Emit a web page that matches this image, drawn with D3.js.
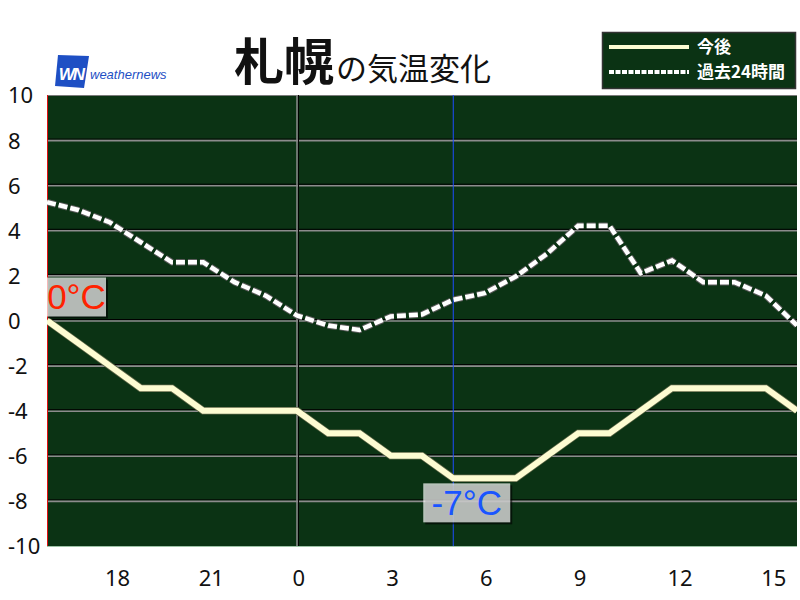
<!DOCTYPE html>
<html><head><meta charset="utf-8">
<script src="https://cdn.jsdelivr.net/npm/d3@7"></script>
<style>body{margin:0;background:#fff}svg{display:block}</style>
</head><body>
<svg id="c" width="800" height="600"></svg>
<script>
// hourly slots from 16:00 to 16:00 next day (25 points)
const hours = d3.range(25);
const tickIdx = [2,5,8,11,14,17,20,23];
const tickLabels = ["18","21","0","3","6","9","12","15"];
const yTicks = [-10,-8,-6,-4,-2,0,2,4,6,8,10];
const future = [0,-1,-2,-3,-3,-4,-4,-4,-4,-5,-5,-6,-6,-7,-7,-7,-6,-5,-5,-4,-3,-3,-3,-3,-4];
const past = [5.25,4.9,4.36,3.47,2.58,2.58,1.7,1.1,0.22,-0.22,-0.42,0.18,0.27,0.92,1.21,1.95,2.96,4.2,4.2,2.1,2.66,1.7,1.7,1.1,-0.22];
const legendLabels = ["今後","過去24時間"];
const titleMain = "札幌", titleSub = "の気温変化";
const startLabel = "0°C", minLabel = "-7°C";

const svg = d3.select("#c");
const L=47, R=797, T=95, B=546;
const x = d3.scaleLinear().domain([0,24]).range([L,R]);
const y = d3.scaleLinear().domain([-10,10]).range([B,T]);
const bg = "#0b3314";

svg.append("defs").append("clipPath").attr("id","clip")
  .append("rect").attr("x",L).attr("y",T).attr("width",R-L).attr("height",B-T);

svg.append("rect").attr("x",L).attr("y",T).attr("width",R-L).attr("height",B-T).attr("fill",bg);

// gridlines
const grid = svg.append("g");
yTicks.filter(v=>v>-10&&v<10).forEach(v=>{
  grid.append("line").attr("x1",L).attr("x2",R).attr("y1",y(v)-1).attr("y2",y(v)-1).attr("stroke","#000").attr("stroke-width",1);
  grid.append("line").attr("x1",L).attr("x2",R).attr("y1",y(v)+0.5).attr("y2",y(v)+0.5).attr("stroke","#8c8c8c").attr("stroke-width",1.6);
});
grid.append("line").attr("x1",L).attr("x2",R).attr("y1",T+0.5).attr("y2",T+0.5).attr("stroke","#7a7a7a").attr("stroke-width",1);
grid.append("line").attr("x1",x(8)).attr("x2",x(8)).attr("y1",T).attr("y2",B).attr("stroke","#8c8c8c").attr("stroke-width",1.5);
grid.append("line").attr("x1",x(8)+1.5).attr("x2",x(8)+1.5).attr("y1",T).attr("y2",B).attr("stroke","#000").attr("stroke-width",1);
const minI = future.indexOf(d3.min(future));
grid.append("line").attr("x1",x(minI)).attr("x2",x(minI)).attr("y1",T).attr("y2",B).attr("stroke","#1f4dff").attr("stroke-width",1);
grid.append("line").attr("x1",L+0.5).attr("x2",L+0.5).attr("y1",T).attr("y2",B).attr("stroke","#e01010").attr("stroke-width",1);
grid.append("line").attr("x1",L).attr("x2",R).attr("y1",B+0.5).attr("y2",B+0.5).attr("stroke","#9fc4a8").attr("stroke-width",1);

const line = d3.line().x((d,i)=>x(i)).y(d=>y(d));
const lines = svg.append("g").attr("clip-path","url(#clip)");
lines.append("path").datum(past).attr("d",line).attr("fill","none")
  .attr("stroke","#5a5a5a").attr("stroke-width",6.5).attr("stroke-dasharray","9,3");
lines.append("path").datum(past).attr("d",line).attr("fill","none")
  .attr("stroke","#ffffff").attr("stroke-width",4.5).attr("stroke-dasharray","9,3");
lines.append("path").datum(future).attr("d",line).attr("fill","none")
  .attr("stroke","#5b6445").attr("stroke-width",7.5);
lines.append("path").datum(future).attr("d",line).attr("fill","none")
  .attr("stroke","#fdfcd2").attr("stroke-width",6);

function labelBox(cx, top, w, h, txt, col){
  const g = svg.append("g");
  g.append("rect").attr("x",cx+2).attr("y",top+2).attr("width",w).attr("height",h).attr("fill","#000").attr("opacity",0.6);
  g.append("rect").attr("x",cx).attr("y",top).attr("width",w).attr("height",h).attr("fill","#ffffff").attr("fill-opacity",0.7);
  g.append("text").attr("x",cx+w/2).attr("y",top+h/2+12).attr("text-anchor","middle")
    .attr("font-family","'Liberation Sans', Arial, sans-serif").attr("font-size",35).attr("fill",col).text(txt);
}
labelBox(x(0), y(future[0])-43, 59, 39, startLabel, "#ff2200");
labelBox(x(minI)-30, y(future[minI])+5, 87, 39, minLabel, "#1a55ff");

const xAxis = svg.append("g").attr("transform",`translate(0,${B})`)
  .call(d3.axisBottom(x).tickValues(tickIdx).tickSize(0).tickFormat((d,i)=>tickLabels[i]));
xAxis.select(".domain").remove();
xAxis.selectAll("text").attr("text-anchor","start").attr("dx",-5).attr("y",24)
  .attr("font-family","'Noto Sans', sans-serif").attr("font-size",22).attr("fill","#111");

const yAxis = svg.append("g")
  .call(d3.axisLeft(y).tickValues(yTicks).tickSize(0).tickFormat(d=>String(d)));
yAxis.select(".domain").remove();
yAxis.selectAll("text").attr("text-anchor","start").attr("x",8).attr("dy","0.36em")
  .attr("font-family","'Noto Sans', sans-serif").attr("font-size",22).attr("fill","#111");

const title = svg.append("text").attr("x",234).attr("y",80).attr("font-family","'Noto Sans CJK JP', sans-serif").attr("fill","#111");
title.append("tspan").attr("font-size",50).attr("font-weight",700).text(titleMain);
title.append("tspan").attr("font-size",31).attr("dx",2).text(titleSub);

const logo = svg.append("g");
logo.append("path").attr("d","M58,55 L89,56 L84,88 L55,86 Z").attr("fill","#1e4fc4");
logo.append("text").attr("x",71).attr("y",80).attr("text-anchor","middle").attr("font-family","'Liberation Sans', Arial, sans-serif")
  .attr("font-weight",700).attr("font-style","italic").attr("font-size",17).attr("fill","#fff").attr("letter-spacing",-2).text("WN");
logo.append("text").attr("x",90).attr("y",79).attr("font-family","'Liberation Sans', Arial, sans-serif")
  .attr("font-style","italic").attr("font-size",13).attr("fill","#1e4fc4").text("weathernews");

const lg = svg.append("g");
lg.append("rect").attr("x",602.5).attr("y",32.5).attr("width",193).attr("height",56).attr("fill",bg).attr("stroke","#333").attr("stroke-width",1.5);
lg.append("line").attr("x1",609).attr("x2",689).attr("y1",47).attr("y2",47).attr("stroke","#fdfcd2").attr("stroke-width",4);
lg.append("line").attr("x1",609).attr("x2",689).attr("y1",72).attr("y2",72).attr("stroke","#fff").attr("stroke-width",4).attr("stroke-dasharray","5,1.5");
lg.selectAll("text.l").data(legendLabels).enter().append("text")
  .attr("x",697).attr("y",(d,i)=>53+i*25).attr("font-family","'Noto Sans CJK JP', sans-serif").attr("font-weight",700)
  .attr("font-size",17).attr("fill","#fff").text(d=>d);
</script>
</body></html>
